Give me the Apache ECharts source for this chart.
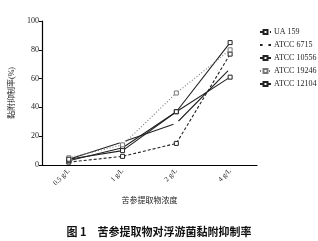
<!DOCTYPE html>
<html>
<head>
<meta charset="utf-8">
<script src="https://cdn.jsdelivr.net/npm/echarts@6/dist/echarts.min.js"></script>
<style>
	html, body { margin: 0; padding: 0; background: #fff; }
	#chart { width: 318px; height: 241px; }
</style>
</head>
<body>
<div id="chart"></div>
<script>
var categories = ['0.5 g/L', '1 g/L', '2 g/L', '4 g/L'];
var yTicks = [0, 20, 40, 60, 80, 100];

var ua159 = [2, 6, 15, 77];
var atcc6715 = [4, 16, 29, 67];
var atcc10556 = [3, 12, 37, 85];
var atcc19246 = [5, 14, 50, 80];
var atcc12104 = [4, 10, 37, 61];

var serif = '"Liberation Serif", "Noto Sans CJK SC", serif';

function makeLine(name, data, type, color, symbol) {
	return {
		name: name,
		type: 'line',
		data: data,
		symbol: symbol,
		symbolSize: 4,
		lineStyle: { color: color, width: 1.1, type: type },
		itemStyle: { color: '#fff', borderColor: color, borderWidth: 1 },
		emphasis: { disabled: true },
		animation: false
	};
}

var myChart = echarts.init(document.getElementById('chart'));

var option = {
	backgroundColor: '#fff',
	grid: { left: 35, top: 21, width: 222, height: 144 },
	legend: {
		orient: 'vertical',
		left: 254,
		top: 23,
		itemWidth: 11,
		itemHeight: 5,
		itemGap: 5,
		textStyle: { fontFamily: serif, fontSize: 8, color: '#222', padding: [0, 0, 0, -2] },
		data: ['UA 159', 'ATCC 6715', 'ATCC 10556', 'ATCC 19246', 'ATCC 12104']
	},
	xAxis: {
		type: 'category',
		data: categories,
		boundaryGap: true,
		name: '苦参提取物浓度',
		nameLocation: 'middle',
		nameGap: 32,
		nameTextStyle: { fontFamily: serif, fontSize: 8, color: '#222' },
		axisLine: { lineStyle: { color: '#000', width: 1.2 } },
		axisTick: { alignWithLabel: true, length: 3, lineStyle: { color: '#000' } },
		axisLabel: { rotate: 45, fontFamily: serif, fontSize: 7, color: '#222', margin: 5 }
	},
	yAxis: {
		type: 'value',
		min: 0,
		max: 100,
		interval: 20,
		name: '黏附抑制率(%)',
		nameLocation: 'middle',
		nameGap: 22,
		nameTextStyle: { fontFamily: serif, fontSize: 8, color: '#222' },
		axisLine: { show: true, lineStyle: { color: '#000', width: 1.2 } },
		axisTick: { show: true, length: 3, lineStyle: { color: '#000' } },
		splitLine: { show: false },
		axisLabel: {
			fontFamily: serif, fontSize: 8, color: '#222', margin: 3,
			formatter: function(v) { return yTicks.indexOf(v) >= 0 ? v : ''; }
		}
	},
	title: {
		text: '图 1　苦参提取物对浮游菌黏附抑制率',
		left: 'center',
		top: 221,
		textStyle: { fontFamily: '"Noto Sans CJK SC", sans-serif', fontSize: 11, fontWeight: 'bold', color: '#111' }
	},
	series: [
		makeLine('UA 159', ua159, [3, 2], '#222', 'rect'),
		makeLine('ATCC 6715', atcc6715, 'solid', '#222', 'emptyCircle'),
		makeLine('ATCC 10556', atcc10556, 'solid', '#222', 'rect'),
		makeLine('ATCC 19246', atcc19246, [1, 2], '#777', 'rect'),
		makeLine('ATCC 12104', atcc12104, 'solid', '#222', 'rect')
	]
};

myChart.setOption(option);
</script>
</body>
</html>
